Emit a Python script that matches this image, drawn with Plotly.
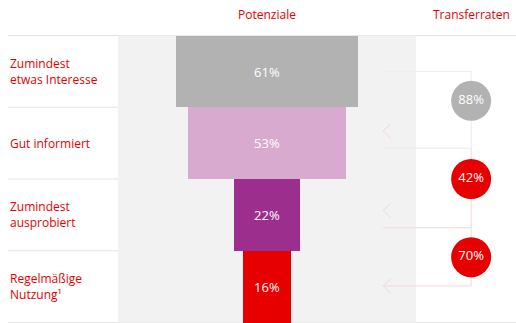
import plotly.graph_objects as go

# ---- data ----
stages = ["Zumindest<br>etwas Interesse", "Gut informiert", "Zumindest<br>ausprobiert", "Regelmäßige<br>Nutzung¹"]
potenziale = [61, 53, 22, 16]
bar_colors = ["#b2b2b2", "#d8aad0", "#9c2f8e", "#e60000"]
transfer_rates = [88, 42, 70]
rate_colors = ["#b2b2b2", "#e60000", "#e60000"]
col_titles = ["Potenziale", "Transferraten"]

RED = "#e60000"
FONT = "Open Sans"

# ---- layout constants ----
rows = list(range(len(stages)))
circle_x = 68.5
circle_y = [0.41, 1.5, 2.59]
circle_r = 0.28
arrow_left = 39.0
arrow_line_y = [1.07, 2.18, 2.99]
arrow_head_y = [0.83, 1.94, 2.99]
top_line_y = 0.0

fig = go.Figure()

# background panel (0..100%)
fig.add_shape(type="rect", x0=-50, x1=50, y0=-0.5, y1=3.5, xref="x", yref="y",
              fillcolor="#f2f2f2", line_width=0, layer="below")

# separators
for i, yb in enumerate([-0.5, 0.5, 1.5, 2.5, 3.5]):
    full = i in (0, 4)
    fig.add_shape(type="line", xref="paper", yref="y", x0=8/516, x1=(1.0 if full else 416/516),
                  y0=yb, y1=yb, line=dict(color="#e3e3e3", width=1), layer="below")

# funnel bars
fig.add_trace(go.Bar(
    y=rows, x=potenziale, base=[-v/2 for v in potenziale], orientation="h",
    marker=dict(color=bar_colors, line_width=0), width=1.0,
    text=[f"{v}%" for v in potenziale], textposition="inside", insidetextanchor="middle",
    textfont=dict(color="white", size=13, family=FONT, weight=500), hoverinfo="skip", showlegend=False,
))

# connector lines (faint)
def seg(xs, ys, color):
    fig.add_trace(go.Scatter(x=xs, y=ys, mode="lines", line=dict(color=color, width=1),
                             hoverinfo="skip", showlegend=False))

seg([arrow_left, circle_x, circle_x], [top_line_y, top_line_y, circle_y[0] - circle_r], "#ededed")
for k in range(len(transfer_rates)):
    col = "#efe6e6" if k == 0 else "#f7d6d6"
    seg([circle_x, circle_x, arrow_left], [circle_y[k] + circle_r, arrow_line_y[k], arrow_line_y[k]], col)
    if k + 1 < len(transfer_rates):
        seg([circle_x, circle_x], [arrow_line_y[k], circle_y[k + 1] - circle_r], "#f7d6d6")
    hy = arrow_head_y[k]
    seg([arrow_left + 2.5, arrow_left, arrow_left + 2.5], [hy - 0.1, hy, hy + 0.1], "#f3d6d6")

# transfer rate circles
fig.add_trace(go.Scatter(
    x=[circle_x] * len(transfer_rates), y=circle_y, mode="markers+text",
    marker=dict(size=40, color=rate_colors, line_width=0),
    text=[f"{v}%" for v in transfer_rates], textposition="middle center",
    textfont=dict(color="white", size=13, family=FONT, weight=500), hoverinfo="skip", showlegend=False,
))

# row labels
for r, s in zip(rows, stages):
    fig.add_annotation(x=8/516, xref="paper", y=r, yref="y", text=s, showarrow=False,
                       xanchor="left", yanchor="middle", align="left",
                       font=dict(color=RED, size=12, family=FONT, weight=500))

# column titles
for t, xp in zip(col_titles, [0, circle_x]):
    fig.add_annotation(x=xp, xref="x", y=1 - 14/323, yref="paper", text=t, showarrow=False,
                       xanchor="center", yanchor="middle",
                       font=dict(color=RED, size=12, family=FONT, weight=500))

fig.update_layout(
    width=516, height=323, margin=dict(l=0, r=0, t=0, b=0),
    paper_bgcolor="white", plot_bgcolor="white",
    xaxis=dict(range=[-267/2.98, 249/2.98], visible=False, fixedrange=True),
    yaxis=dict(range=[3.507, -0.995], visible=False, fixedrange=True),
    bargap=0, uniformtext=dict(mode="show", minsize=12),
)

fig.write_html("out.html")
